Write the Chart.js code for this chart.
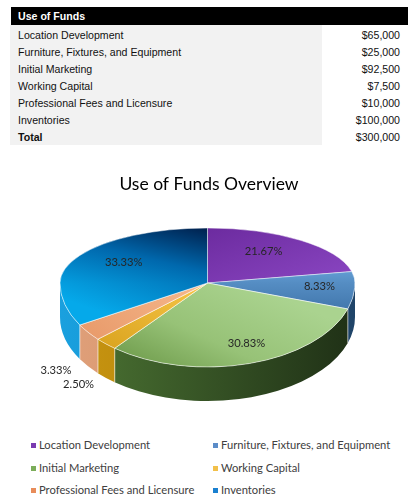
<!DOCTYPE html>
<html>
<head>
<meta charset="utf-8">
<script src="https://cdn.jsdelivr.net/npm/chart.js@4.4.1/dist/chart.umd.min.js"></script>
<style>
  html, body { margin:0; padding:0; background:#fff; }
  body { width:418px; height:497px; position:relative; overflow:hidden; }
  #tbl { position:absolute; left:0; top:0; width:418px; height:150px; font-family:"Liberation Sans", Arial, sans-serif; font-size:10.6px; color:#111; }
  .abs { position:absolute; white-space:nowrap; }
  #chartWrap { position:absolute; left:0; top:150px; width:418px; height:280px; }
  #legend { position:absolute; left:0; top:430px; width:418px; height:67px; font-family:Lato, "Open Sans", sans-serif; font-size:11.2px; color:#404040; }
  .lg { position:absolute; white-space:nowrap; line-height:14px; }
  .mk { position:absolute; width:5px; height:5px; }
</style>
</head>
<body>
<div id="tbl"></div>
<div id="chartWrap"><canvas id="c" width="418" height="280"></canvas></div>
<div id="legend"></div>
<script>
// ---------------- data ----------------
const tableTitle = "Use of Funds";
const categories = ["Location Development", "Furniture, Fixtures, and Equipment", "Initial Marketing", "Working Capital", "Professional Fees and Licensure", "Inventories"];
const amounts = [65000, 25000, 92500, 7500, 10000, 100000];
const totalLabel = "Total";
const totalAmount = 300000;
const chartTitle = "Use of Funds Overview";

// ---------------- styles ----------------
const legendColors = ["#7a3bb0", "#5b8cc8", "#7bad5a", "#f2c04a", "#e88c5a", "#1a80d0"];
const topStops = [
  [[0, "#6c2b9f"], [1, "#8b47c3"]],
  [[0, "#6aa5dc"], [1, "#3a6ea3"]],
  [[0, "#aad38f"], [0.55, "#97c277"], [1, "#6f9c4c"]],
  [[0, "#f7c648"], [1, "#dca622"]],
  [[0, "#f6b98e"], [1, "#e99c6c"]],
  [[0, "#00204d"], [0.45, "#0068ad"], [1, "#05a9ea"]]
];
const sideStops = [
  ["#3b6d9e", "#23486f"],
  ["#3b6d9e", "#1f4468"],
  ["#4d7634", "#1f3016"],
  ["#c89512", "#a87800"],
  ["#e0a07a", "#c9875c"],
  ["#1aa0de", "#0a7fc0"]
];

const fmt = v => "$" + v.toLocaleString("en-US");

// ---------------- table ----------------
(function buildTable(){
  const t = document.getElementById("tbl");
  let h = '';
  h += '<div class="abs" style="left:11px;top:7px;width:397px;height:18px;background:#000"></div>';
  h += '<div class="abs" style="left:18px;top:7px;line-height:18px;color:#fff;font-weight:bold">' + tableTitle + '</div>';
  h += '<div class="abs" style="left:10px;top:25px;width:312px;height:120px;background:#f2f2f2"></div>';
  const rows = categories.map((c, i) => [c, fmt(amounts[i]), false]).concat([[totalLabel, fmt(totalAmount), true]]);
  rows.forEach((r, i) => {
    const top = 27 + i * 17;
    const fw = r[2] ? 'font-weight:bold;' : '';
    h += '<div class="abs" style="left:18px;top:' + top + 'px;line-height:16px;' + fw + '">' + r[0] + '</div>';
    h += '<div class="abs" style="right:18px;top:' + top + 'px;line-height:16px;">' + r[1] + '</div>';
  });
  t.innerHTML = h;
})();

// ---------------- legend ----------------
(function buildLegend(){
  const L = document.getElementById("legend");
  let h = '';
  categories.forEach((c, i) => {
    const col = i % 2, row = Math.floor(i / 2);
    const x = col === 0 ? 31 : 213;
    const cy = 15.5 + row * 22.5;
    h += '<div class="mk" style="left:' + x + 'px;top:' + (cy - 2.5) + 'px;background:' + legendColors[i] + '"></div>';
    h += '<div class="lg" style="left:' + (x + 8) + 'px;top:' + (cy - 7.5) + 'px">' + c + '</div>';
  });
  L.innerHTML = h;
})();

// ---------------- 3D pie geometry ----------------
const R = 147.5;       // horizontal radius (px)
const CX = 207.5;      // screen centre x (canvas)
const TY = 133;        // screen apex y (canvas)
const RY_TOP = 55;     // back half vertical radius
const RY_BOT = 84;     // front half vertical radius
const DEPTH = 34;

function linGrad(ctx, x1, y1, x2, y2, stops){
  const g = ctx.createLinearGradient(x1, y1, x2, y2);
  stops.forEach(s => g.addColorStop(s[0], s[1]));
  return g;
}

function topFill(context){
  const chart = context.chart;
  const i = context.dataIndex;
  const ca = chart.chartArea;
  if (!ca) return legendColors[i];
  const ctx = chart.ctx;
  const x0 = (ca.left + ca.right) / 2, y0 = (ca.top + ca.bottom) / 2;
  const s = topStops[i];
  switch (i) {
    case 0: return linGrad(ctx, x0, y0 - R, x0 + R, y0, s);
    case 1: return linGrad(ctx, x0 + R * 0.8, y0 - R * 0.35, x0 + R * 0.8, y0 + R * 0.45, s);
    case 2: return linGrad(ctx, x0 + R * 0.3, y0, x0 - R * 0.5, y0 + R, s);
    case 3: return linGrad(ctx, x0, y0, x0 - R * 0.7, y0 + R * 0.7, s);
    case 4: return linGrad(ctx, x0, y0, x0 - R * 0.85, y0 + R * 0.5, s);
    default: return linGrad(ctx, x0, y0 - R, x0 - R * 0.8, y0 + R * 0.3, s);
  }
}

function screenPt(a, f, fx){
  const s = Math.sin(a);
  const ry = s < 0 ? RY_TOP : RY_BOT;
  return [CX + R * (fx === undefined ? f : fx) * Math.cos(a), TY + ry * f * s];
}

const pie3d = {
  id: 'pie3d',
  beforeDatasetDraw(chart, args){
    const meta = args.meta;
    const ctx = chart.ctx;
    const arcs = meta.data;
    if (!arcs.length) return;
    const x0 = arcs[0].x, y0 = arcs[0].y;
    const W = chart.width, H = chart.height;

    // side walls (front half only)
    arcs.forEach((arc, i) => {
      const a1 = Math.max(arc.startAngle, 0);
      const a2 = Math.min(arc.endAngle, Math.PI);
      if (a2 <= a1) return;
      ctx.save();
      ctx.fillStyle = linGrad(ctx, CX - R, 0, CX + R, 0, [[0, sideStops[i][0]], [1, sideStops[i][1]]]);
      ctx.beginPath();
      ctx.ellipse(CX, TY, R, RY_BOT, 0, a1, a2, false);
      ctx.ellipse(CX, TY + DEPTH, R, RY_BOT, 0, a2, a1, true);
      ctx.closePath();
      ctx.fill();
      ctx.strokeStyle = 'rgba(255,255,255,0.55)';
      ctx.lineWidth = 0.8;
      [a1, a2].forEach(a => {
        if (a <= 0.001 || a >= Math.PI - 0.001) return;
        const p = screenPt(a, 1);
        ctx.beginPath();
        ctx.moveTo(p[0], p[1]);
        ctx.lineTo(p[0], p[1] + DEPTH);
        ctx.stroke();
      });
      ctx.restore();
    });

    // top face: back half and front half with different vertical squash
    [[RY_TOP / R, 0, TY + 0.5], [RY_BOT / R, TY - 0.5, H]].forEach(([k, yA, yB]) => {
      ctx.save();
      ctx.beginPath();
      ctx.rect(0, yA, W, yB - yA);
      ctx.clip();
      ctx.translate(CX, TY);
      ctx.scale(1, k);
      ctx.translate(-x0, -y0);
      meta.controller.draw();
      ctx.restore();
    });

    // percentage labels
    const total = amounts.reduce((a, b) => a + b, 0);
    ctx.save();
    ctx.font = '11.2px Lato, "Open Sans", sans-serif';
    ctx.fillStyle = '#262626';
    ctx.textAlign = 'center';
    ctx.textBaseline = 'middle';
    arcs.forEach((arc, i) => {
      const pct = amounts[i] / total;
      const mid = (arc.startAngle + arc.endAngle) / 2;
      const txt = (pct * 100).toFixed(2) + '%';
      let p;
      if (pct < 0.05) {
        p = screenPt(mid, 1.27);
        p[1] += DEPTH * 0.72;
      } else {
        const f = 0.75;
        p = screenPt(mid, f, f * (1 + 0.25 * Math.sin(mid)));
      }
      ctx.fillText(txt, p[0], p[1]);
    });
    ctx.restore();
    return false;
  }
};

new Chart(document.getElementById('c'), {
  type: 'pie',
  data: {
    labels: categories,
    datasets: [{
      data: amounts,
      backgroundColor: topFill,
      borderColor: 'rgba(255,255,255,0.7)',
      borderWidth: 1,
      radius: R,
      clip: false
    }]
  },
  options: {
    responsive: false,
    animation: false,
    events: [],
    layout: { padding: 0 },
    plugins: {
      legend: { display: false },
      tooltip: { enabled: false },
      title: {
        display: true,
        text: chartTitle,
        color: '#000',
        font: { family: 'Lato, "Open Sans", sans-serif', size: 17.5, weight: 'normal' },
        padding: { top: 24, bottom: 8 }
      }
    }
  },
  plugins: [pie3d]
});
</script>
</body>
</html>
